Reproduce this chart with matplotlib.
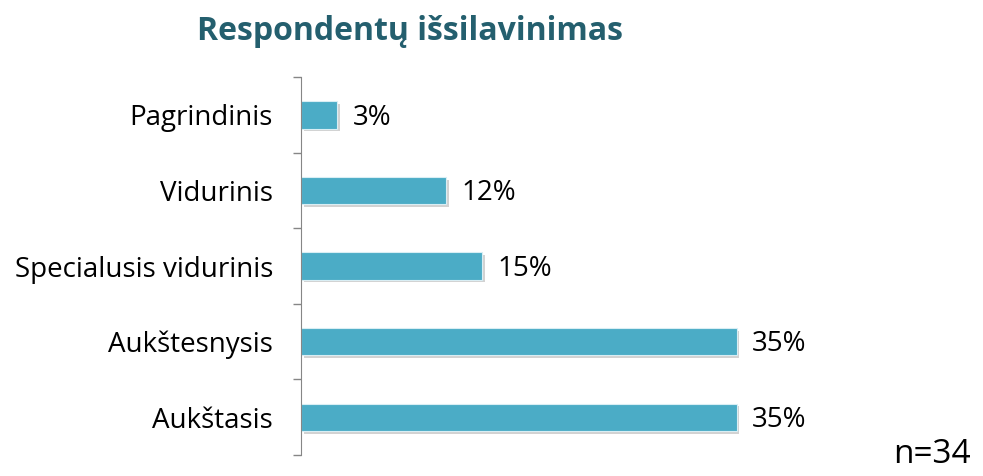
import matplotlib.pyplot as plt
import matplotlib.patheffects as pe

categories = ['Aukštasis', 'Aukštesnysis', 'Specialusis vidurinis', 'Vidurinis', 'Pagrindinis']
counts = [12, 12, 5, 4, 1]
n_total = 34
values = [c / n_total * 100 for c in counts]
labels = ['35%', '35%', '15%', '12%', '3%']

plt.rcParams['font.family'] = ['Open Sans', 'DejaVu Sans']

fig = plt.figure(figsize=(9.83, 4.76), dpi=100)
ax = fig.add_axes([0.306, 0.044, 0.628, 0.794])

bars = ax.barh(range(len(categories)), values, height=0.36, color='#4BACC6',
               edgecolor='#D9EEF4', linewidth=0.8)
for b in bars:
    b.set_path_effects([pe.SimplePatchShadow(offset=(2, -2), alpha=0.35, shadow_rgbFace='#808080'),
                        pe.Normal()])

for i, (v, lab) in enumerate(zip(values, labels)):
    ax.annotate(lab, (v, i), xytext=(11, -2), textcoords='offset points',
                va='center', ha='left', fontsize=20, color='black')

ax.set_xlim(0, 50)
ax.set_ylim(-0.5, len(categories) - 0.5)
ax.set_yticks([i - 0.5 for i in range(len(categories) + 1)])
ax.set_yticklabels([])
ax.set_yticks(range(len(categories)), minor=True)
ax.set_yticklabels(categories, minor=True, fontsize=20)
ax.tick_params(axis='y', which='major', length=6, color='#868686', width=1)
ax.tick_params(axis='y', which='minor', length=0, pad=20)
ax.set_xticks([])

for s in ['top', 'right', 'bottom']:
    ax.spines[s].set_visible(False)
ax.spines['left'].set_color('#868686')

fig.text(0.417, 0.934, 'Respondentų išsilavinimas', ha='center', va='center',
         fontsize=23, fontweight='bold', color='#245F6E')
fig.text(0.988, 0.01, 'n=' + str(n_total), ha='right', va='bottom', fontsize=24)

fig.savefig('out.png', dpi=100)
